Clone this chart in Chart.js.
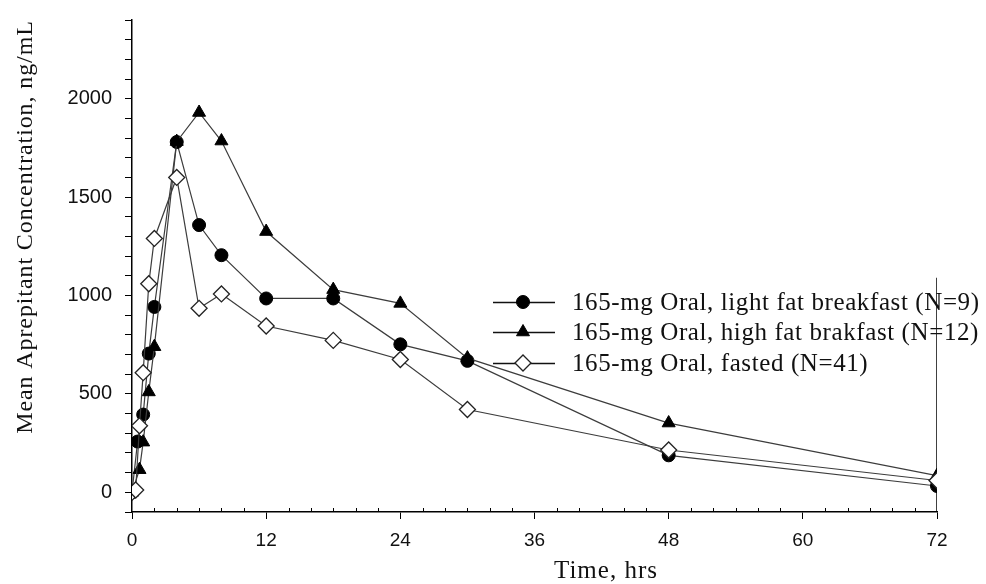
<!DOCTYPE html>
<html lang="en">
<head>
<meta charset="UTF-8">
<title>Mean Aprepitant Concentration</title>
<script src="https://cdn.jsdelivr.net/npm/chart.js"></script>
<style>
    html, body { margin: 0; padding: 0; background: #fff; }
    #wrap { width: 986px; height: 584px; }
</style>
</head>
<body>
<div id="wrap"><canvas id="pkChart" width="986" height="584"></canvas></div>
<script>
// values (time in hours, concentration in ng/mL)
const lightLabel = '165-mg Oral, light fat breakfast (N=9)';
const lightTimes = [0, 0.5, 1, 1.5, 2, 4, 6, 8, 12, 18, 24, 30, 48, 72];
const lightValues = [0, 258, 395, 705, 942, 1780, 1358, 1205, 985, 985, 752, 668, 188, 32];

const highLabel = '165-mg Oral, high fat brakfast (N=12)';
const highTimes = [0, 0.67, 1, 1.5, 2, 4, 6, 8, 12, 18, 24, 30, 48, 72];
const highValues = [0, 115, 255, 510, 740, 1782, 1930, 1785, 1325, 1030, 960, 682, 352, 85];

const fastedLabel = '165-mg Oral, fasted (N=41)';
const fastedTimes = [0, 0.33, 0.67, 1, 1.5, 2, 4, 6, 8, 12, 18, 24, 30, 48, 72];
const fastedValues = [0, 12, 338, 608, 1060, 1290, 1600, 935, 1008, 845, 772, 675, 421, 215, 60];

// the vertical rule at 72 h
const ruleTimes = [72, 72];
const ruleValues = [-100, 1090];

const xTickStep = 2;
const xLabelStep = 12;
const yTickStep = 100;
const yLabelStep = 500;

const toPoints = (xs, ys) => xs.map((x, i) => ({ x: x, y: ys[i] }));

const serif = '"Liberation Serif", "DejaVu Serif", serif';
const sans = '"Liberation Sans", Arial, sans-serif';

function marker(ctx, style, radius, x, y, fill, stroke, bw) {
    ctx.save();
    ctx.fillStyle = fill;
    ctx.strokeStyle = stroke;
    ctx.lineWidth = bw;
    Chart.helpers.drawPoint(ctx, { pointStyle: style, radius: radius, rotation: 0, borderWidth: bw }, x, y);
    ctx.restore();
}

const extras = {
    id: 'extras',
    afterDraw(chart) {
        const ctx = chart.ctx;
        const area = chart.chartArea;
        const xs = chart.scales.x;

        // short minor ticks pointing into the plot
        ctx.save();
        ctx.strokeStyle = '#000';
        ctx.lineWidth = 1;
        for (let v = xTickStep; v < 72; v += xTickStep) {
            if (v % xLabelStep === 0) continue;
            const px = Math.round(xs.getPixelForValue(v)) + 0.5;
            ctx.beginPath();
            ctx.moveTo(px, area.bottom);
            ctx.lineTo(px, area.bottom - 4);
            ctx.stroke();
        }
        ctx.restore();

        // axis titles
        ctx.save();
        ctx.fillStyle = '#111';
        ctx.font = '25px ' + serif;
        ctx.letterSpacing = '1px';
        ctx.textAlign = 'center';
        ctx.textBaseline = 'alphabetic';
        ctx.fillText('Time, hrs', 606, 578);
        ctx.translate(32, 227);
        ctx.rotate(-Math.PI / 2);
        ctx.font = '24px ' + serif;
        ctx.letterSpacing = '0.9px';
        ctx.fillText('Mean Aprepitant Concentration, ng/mL', 0, 0);
        ctx.restore();

        // legend
        const rows = [0, 1, 2];
        const rowY = [302, 332, 363];
        ctx.save();
        rows.forEach((i) => {
            const ds = chart.data.datasets[i];
            const y = rowY[i];
            ctx.strokeStyle = '#111';
            ctx.lineWidth = 1.3;
            ctx.beginPath();
            ctx.moveTo(493, y + 0.5);
            ctx.lineTo(555, y + 0.5);
            ctx.stroke();
            marker(ctx, ds.pointStyle, ds.pointRadius, 523, y, ds.pointBackgroundColor, ds.pointBorderColor, ds.pointBorderWidth);
            ctx.fillStyle = '#111';
            ctx.font = '25px ' + serif;
            ctx.letterSpacing = '0.6px';
            ctx.textAlign = 'left';
            ctx.textBaseline = 'middle';
            ctx.fillText(ds.label, 572, y + 1);
        });
        ctx.restore();
    }
};

const ctx = document.getElementById('pkChart').getContext('2d');

new Chart(ctx, {
    type: 'line',
    data: {
        datasets: [
            {
                label: lightLabel,
                data: toPoints(lightTimes, lightValues),
                borderColor: '#3c3c3c',
                borderWidth: 1.2,
                pointStyle: 'circle',
                pointRadius: 6.5,
                pointBackgroundColor: '#000',
                pointBorderColor: '#000',
                pointBorderWidth: 1,
                order: 3
            },
            {
                label: highLabel,
                data: toPoints(highTimes, highValues),
                borderColor: '#3c3c3c',
                borderWidth: 1.2,
                pointStyle: 'triangle',
                pointRadius: 7.5,
                pointBackgroundColor: '#000',
                pointBorderColor: '#000',
                pointBorderWidth: 1,
                order: 2
            },
            {
                label: fastedLabel,
                data: toPoints(fastedTimes, fastedValues),
                borderColor: '#3c3c3c',
                borderWidth: 1.2,
                pointStyle: 'rectRot',
                pointRadius: 8,
                pointBackgroundColor: '#fff',
                pointBorderColor: '#222',
                pointBorderWidth: 1.3,
                order: 1
            },
            {
                label: 'rule',
                data: toPoints(ruleTimes, ruleValues),
                borderColor: '#000',
                borderWidth: 1.5,
                pointRadius: 0,
                order: 4
            }
        ]
    },
    options: {
        responsive: false,
        animation: false,
        devicePixelRatio: 1,
        layout: { padding: { left: 10, right: 49, top: 20, bottom: 0 } },
        plugins: {
            legend: { display: false },
            tooltip: { enabled: false }
        },
        elements: { line: { tension: 0 } },
        scales: {
            x: {
                type: 'linear',
                min: 0,
                max: 72,
                afterFit: (s) => { s.height = 72; s.paddingLeft = 0; s.paddingRight = 0; },
                border: { color: '#000', width: 1.5 },
                grid: {
                    drawOnChartArea: false,
                    tickLength: 7,
                    tickColor: (c) => (c.tick && c.tick.value % xLabelStep === 0) ? '#000' : 'rgba(0,0,0,0)'
                },
                ticks: {
                    stepSize: xTickStep,
                    autoSkip: false,
                    maxRotation: 0,
                    padding: 10,
                    color: '#111',
                    font: { family: sans, size: 19 },
                    callback: (v) => v % xLabelStep === 0 ? v : ''
                }
            },
            y: {
                min: -100,
                max: 2400,
                afterFit: (s) => { s.width = 122; s.paddingTop = 0; s.paddingBottom = 0; },
                border: { color: '#000', width: 1.5 },
                grid: {
                    drawOnChartArea: false,
                    tickLength: 7,
                    tickColor: '#000'
                },
                ticks: {
                    stepSize: yTickStep,
                    autoSkip: false,
                    padding: 13,
                    color: '#111',
                    font: { family: sans, size: 20 },
                    callback: (v) => (v >= 0 && v % yLabelStep === 0) ? v : ''
                }
            }
        }
    },
    plugins: [extras]
});
</script>
</body>
</html>
